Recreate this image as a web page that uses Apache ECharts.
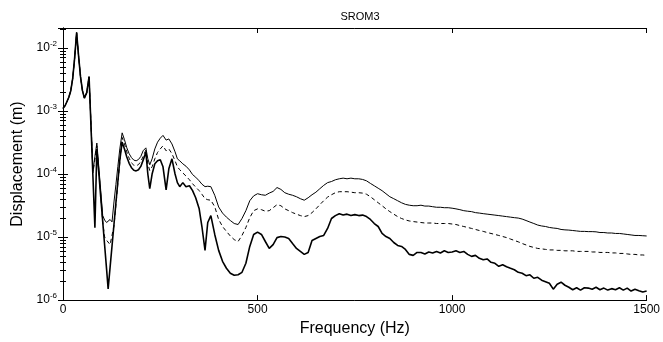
<!DOCTYPE html>
<html>
<head>
    <meta charset="utf-8">
    <script src="https://cdn.jsdelivr.net/npm/echarts@6/dist/echarts.min.js"></script>
</head>
<body style="margin:0;background:#fff;">
<div id="main" style="width: 663px;height:342px;"></div>
<script type="text/javascript">
    // frequency grid (Hz), shared by the three curves
    var freq = [0, 5, 10, 15, 20, 25, 30, 35, 40, 45, 50, 55, 61, 67, 72, 77, 82, 87, 92, 97,
        102, 107, 112, 116, 121, 126, 131, 136, 141, 146, 152, 158, 164, 170, 176, 182, 188, 194, 200, 206,
        213, 218, 223, 229, 236, 243, 250, 257, 265, 272, 280, 288, 294, 300, 308, 316, 325, 333, 341, 350,
        357, 365, 372, 380, 390, 400, 410, 420, 430, 440, 450, 460, 470, 480, 490, 500, 510, 520, 530, 540,
        550, 560, 570, 580, 590, 600, 610, 620, 630, 640, 650, 660, 670, 680, 690, 700, 710, 720, 730, 740,
        750, 760, 770, 780, 790, 800, 810, 820, 830, 840, 850, 860, 870, 880, 890, 900, 910, 920, 930, 940,
        950, 960, 970, 980, 990, 1000, 1010, 1020, 1030, 1040, 1050, 1060, 1070, 1080, 1090, 1100, 1110, 1120, 1130, 1140,
        1150, 1160, 1170, 1180, 1190, 1200, 1210, 1220, 1230, 1240, 1250, 1260, 1270, 1280, 1290, 1300, 1310, 1320, 1330, 1340,
        1350, 1360, 1370, 1380, 1390, 1400, 1410, 1420, 1430, 1440, 1450, 1460, 1470, 1480, 1490, 1500];

    // upper bound (thin solid)
    var upper = [1.1e-3, 1.2e-3, 1.4e-3, 1.65e-3, 2.1e-3, 3.3e-3, 7e-3, 1.75e-2, 7.5e-3, 3.5e-3, 2.1e-3, 1.6e-3, 1.95e-3, 3.5e-3, 6.2e-4, 1.1e-4, 1.9e-4, 3.1e-4, 1.29e-4, 5.4e-5,
        2.2e-5, 1.86e-5, 1.7e-5, 1.78e-5, 1.9e-5, 1.74e-5, 3.6e-5, 6.8e-5, 1.32e-4, 2.5e-4, 4.5e-4, 3.5e-4, 2.6e-4, 2.1e-4, 1.82e-4, 1.66e-4, 1.62e-4, 1.7e-4, 1.9e-4, 2.34e-4,
        2.6e-4, 1.74e-4, 1.4e-4, 1.74e-4, 2.5e-4, 3.2e-4, 3.7e-4, 4.1e-4, 3.45e-4, 3.6e-4, 3.0e-4, 2.25e-4, 1.74e-4, 1.62e-4, 1.45e-4, 1.33e-4, 1.16e-4, 9.8e-5, 8.9e-5, 7.8e-5,
        6.9e-5, 6.3e-5, 6.4e-5, 6.3e-5, 4.6e-5, 3.0e-5, 2.4e-5, 2.07e-5, 1.83e-5, 1.64e-5, 1.58e-5, 1.97e-5, 2.62e-5, 3.77e-5, 4.5e-5, 4.87e-5, 4.69e-5, 4.6e-5, 4.98e-5, 5.3e-5,
        6.1e-5, 5.7e-5, 5.05e-5, 4.78e-5, 4.6e-5, 4.36e-5, 4.06e-5, 3.84e-5, 4.2e-5, 4.69e-5, 5.15e-5, 5.84e-5, 6.6e-5, 7.3e-5, 7.6e-5, 8.1e-5, 8.4e-5, 8.6e-5, 8.4e-5, 8.6e-5,
        8.4e-5, 8.4e-5, 8.2e-5, 7.8e-5, 7.1e-5, 6.5e-5, 5.95e-5, 5.44e-5, 4.87e-5, 4.36e-5, 4.06e-5, 3.77e-5, 3.5e-5, 3.3e-5, 3.2e-5, 3.14e-5, 3.14e-5, 3.2e-5, 3.1e-5, 3.1e-5,
        3.03e-5, 2.97e-5, 2.97e-5, 2.92e-5, 2.92e-5, 2.87e-5, 2.8e-5, 2.72e-5, 2.62e-5, 2.57e-5, 2.53e-5, 2.44e-5, 2.4e-5, 2.35e-5, 2.31e-5, 2.27e-5, 2.23e-5, 2.19e-5, 2.15e-5, 2.11e-5,
        2.07e-5, 2.03e-5, 2.0e-5, 1.93e-5, 1.83e-5, 1.73e-5, 1.64e-5, 1.55e-5, 1.5e-5, 1.47e-5, 1.42e-5, 1.39e-5, 1.37e-5, 1.32e-5, 1.3e-5, 1.29e-5, 1.27e-5, 1.25e-5, 1.23e-5, 1.23e-5,
        1.22e-5, 1.22e-5, 1.21e-5, 1.18e-5, 1.18e-5, 1.16e-5, 1.16e-5, 1.14e-5, 1.14e-5, 1.12e-5, 1.1e-5, 1.08e-5, 1.06e-5, 1.06e-5, 1.05e-5, 1.04e-5];

    // mean (dashed)
    var mean = [1.1e-3, 1.2e-3, 1.4e-3, 1.65e-3, 2.1e-3, 3.3e-3, 7e-3, 1.75e-2, 7.5e-3, 3.5e-3, 2.1e-3, 1.6e-3, 1.95e-3, 3.5e-3, 6.2e-4, 1.05e-4, 1.7e-4, 2.8e-4, 1.12e-4, 4.5e-5,
        1.74e-5, 1e-5, 8.9e-6, 9.5e-6, 7.6e-6, 7.1e-6, 1.5e-5, 3.2e-5, 7.1e-5, 1.5e-4, 3.8e-4, 3.0e-4, 2.24e-4, 1.78e-4, 1.5e-4, 1.38e-4, 1.35e-4, 1.41e-4, 1.58e-4, 1.9e-4,
        2.4e-4, 1.45e-4, 1.13e-4, 1.3e-4, 1.74e-4, 2.2e-4, 2.5e-4, 2.8e-4, 2.33e-4, 2.5e-4, 2.1e-4, 1.62e-4, 1.3e-4, 1.17e-4, 1.04e-4, 9.3e-5, 8.1e-5, 7e-5, 6.2e-5, 5.44e-5,
        4.78e-5, 4.06e-5, 3.91e-5, 3.84e-5, 3.03e-5, 1.9e-5, 1.47e-5, 1.23e-5, 1.04e-5, 9.1e-6, 8.5e-6, 1.06e-5, 1.42e-5, 2.03e-5, 2.62e-5, 2.8e-5, 2.72e-5, 2.57e-5, 2.62e-5, 2.92e-5,
        3.26e-5, 3.14e-5, 2.8e-5, 2.62e-5, 2.44e-5, 2.31e-5, 2.19e-5, 2.11e-5, 2.19e-5, 2.44e-5, 2.8e-5, 3.26e-5, 3.77e-5, 4.3e-5, 4.69e-5, 5.05e-5, 5.24e-5, 5.24e-5, 5.24e-5, 5.15e-5,
        5.05e-5, 5.05e-5, 4.98e-5, 4.78e-5, 4.36e-5, 3.91e-5, 3.5e-5, 3.14e-5, 2.8e-5, 2.53e-5, 2.31e-5, 2.11e-5, 1.97e-5, 1.87e-5, 1.8e-5, 1.76e-5, 1.73e-5, 1.7e-5, 1.67e-5, 1.67e-5,
        1.67e-5, 1.64e-5, 1.64e-5, 1.64e-5, 1.64e-5, 1.61e-5, 1.58e-5, 1.52e-5, 1.47e-5, 1.42e-5, 1.37e-5, 1.32e-5, 1.27e-5, 1.23e-5, 1.18e-5, 1.14e-5, 1.1e-5, 1.06e-5, 1.02e-5, 9.8e-6,
        9.3e-6, 8.84e-6, 8.4e-6, 7.9e-6, 7.5e-6, 7.1e-6, 6.85e-6, 6.6e-6, 6.5e-6, 6.37e-6, 6.25e-6, 6.25e-6, 6.15e-6, 6.15e-6, 6.05e-6, 6.05e-6, 6.05e-6, 5.92e-6, 5.92e-6, 5.92e-6,
        5.92e-6, 5.8e-6, 5.8e-6, 5.7e-6, 5.7e-6, 5.7e-6, 5.6e-6, 5.6e-6, 5.5e-6, 5.5e-6, 5.4e-6, 5.31e-6, 5.31e-6, 5.2e-6, 5.2e-6, 5.12e-6];

    // lower bound (thick solid)
    var lower = [1.1e-3, 1.2e-3, 1.4e-3, 1.65e-3, 2.1e-3, 3.3e-3, 7e-3, 1.75e-2, 7.5e-3, 3.5e-3, 2.1e-3, 1.6e-3, 1.95e-3, 3.5e-3, 5.6e-4, 8.9e-5, 1.4e-5, 2.5e-4, 1.05e-4, 4.3e-5,
        1.78e-5, 7.4e-6, 3.1e-6, 1.5e-6, 3.3e-6, 7.2e-6, 1.58e-5, 3.5e-5, 7.6e-5, 1.66e-4, 3.2e-4, 2.5e-4, 1.86e-4, 1.48e-4, 1.26e-4, 1.15e-4, 1.12e-4, 1.17e-4, 1.32e-4, 1.66e-4,
        2.24e-4, 1.0e-4, 5.84e-5, 1.0e-4, 1.45e-4, 1.62e-4, 1.68e-4, 1.3e-4, 5.6e-5, 1.21e-4, 1.74e-4, 1.0e-4, 7.3e-5, 6.3e-5, 7.3e-5, 6.3e-5, 6.5e-5, 5.44e-5, 4.2e-5, 2.8e-5,
        1.47e-5, 6.15e-6, 1.7e-5, 2.19e-5, 1.1e-5, 6.15e-6, 4.12e-6, 3.2e-6, 2.67e-6, 2.48e-6, 2.52e-6, 2.76e-6, 3.84e-6, 7.1e-6, 1.1e-5, 1.2e-5, 1.1e-5, 8.5e-6, 6.6e-6, 7.6e-6,
        9.8e-6, 1.02e-5, 1.0e-5, 9.5e-6, 7.9e-6, 6.6e-6, 5.92e-6, 5.31e-6, 5.7e-6, 8.84e-6, 9.5e-6, 1.02e-5, 1.06e-5, 1.37e-5, 1.97e-5, 2.19e-5, 2.35e-5, 2.23e-5, 2.31e-5, 2.19e-5,
        2.27e-5, 2.19e-5, 2.23e-5, 2.11e-5, 1.9e-5, 1.64e-5, 1.47e-5, 1.14e-5, 1.02e-5, 9.5e-6, 8.2e-6, 7.37e-6, 7.1e-6, 6.37e-6, 5.31e-6, 5.12e-6, 5.7e-6, 5.7e-6, 5.4e-6, 5.8e-6,
        5.6e-6, 5.92e-6, 5.6e-6, 6.05e-6, 5.7e-6, 5.8e-6, 6.05e-6, 5.7e-6, 5.92e-6, 5.31e-6, 4.94e-6, 5.12e-6, 4.6e-6, 4.35e-6, 4.5e-6, 3.98e-6, 3.84e-6, 3.44e-6, 3.63e-6, 3.38e-6,
        3.2e-6, 3.03e-6, 2.76e-6, 2.67e-6, 2.44e-6, 2.52e-6, 2.22e-6, 2.3e-6, 2.07e-6, 1.96e-6, 1.85e-6, 1.49e-6, 1.79e-6, 1.92e-6, 1.72e-6, 1.6e-6, 1.46e-6, 1.57e-6, 1.44e-6, 1.57e-6,
        1.55e-6, 1.49e-6, 1.6e-6, 1.46e-6, 1.55e-6, 1.44e-6, 1.52e-6, 1.46e-6, 1.57e-6, 1.44e-6, 1.55e-6, 1.39e-6, 1.49e-6, 1.41e-6, 1.34e-6, 1.39e-6];

    var xTicks = [0, 500, 1000, 1500];

    function pairs(vals) {
        return freq.map(function (f, i) { return [f, vals[i]]; });
    }

    var myChart = echarts.init(document.getElementById('main'));
    var font = 'Liberation Sans, Arial, sans-serif';
    var yMin = 1e-6, yMax = 0.0207;

    var tickStyle = { show: true, inside: true, length: 5, lineStyle: { color: '#000', width: 1 } };
    var minorStyle = { show: true, splitNumber: 9, length: 3, lineStyle: { color: '#000', width: 1 } };

    myChart.setOption({
        animation: false,
        title: {
            text: 'SROM3',
            left: 355,
            top: 6,
            textAlign: 'center',
            textStyle: { fontSize: 11, fontWeight: 'normal', color: '#000', fontFamily: font }
        },
        grid: { left: 63, right: 16, top: 28, bottom: 40 },
        xAxis: [{
            type: 'value',
            min: xTicks[0],
            max: xTicks[xTicks.length - 1],
            interval: 500,
            name: 'Frequency (Hz)',
            nameLocation: 'middle',
            nameGap: 16,
            nameTextStyle: { fontSize: 16, color: '#000', fontFamily: font },
            axisLine: { show: true, lineStyle: { color: '#000', width: 1 } },
            axisTick: tickStyle,
            axisLabel: {
                color: '#000', fontSize: 12, margin: 4, fontFamily: font,
                formatter: function (v) { return String(v); }
            },
            splitLine: { show: false }
        }, {
            type: 'value',
            position: 'top',
            min: xTicks[0],
            max: xTicks[xTicks.length - 1],
            interval: 500,
            axisLine: { show: true, lineStyle: { color: '#000', width: 1 } },
            axisTick: tickStyle,
            axisLabel: { show: false },
            splitLine: { show: false }
        }],
        yAxis: [{
            type: 'log',
            logBase: 10,
            min: yMin,
            max: yMax,
            name: 'Displacement (m)',
            nameLocation: 'middle',
            nameGap: 35,
            nameTextStyle: { fontSize: 16, color: '#000', fontFamily: font },
            axisLine: { show: true, lineStyle: { color: '#000', width: 1 } },
            axisTick: tickStyle,
            minorTick: minorStyle,
            axisLabel: {
                showMaxLabel: false,
                margin: 6,
                color: '#000',
                fontFamily: font,
                formatter: function (v) {
                    return '{b|10}{s|' + Math.round(Math.log10(v)) + '}';
                },
                rich: {
                    b: { fontSize: 12, color: '#000', fontFamily: font },
                    s: { fontSize: 8, color: '#000', fontFamily: font, padding: [0, 0, 8, 0] }
                }
            },
            splitLine: { show: false }
        }, {
            type: 'log',
            logBase: 10,
            position: 'right',
            min: yMin,
            max: yMax,
            axisLine: { show: true, lineStyle: { color: '#000', width: 1 } },
            axisTick: tickStyle,
            minorTick: minorStyle,
            axisLabel: { show: false },
            splitLine: { show: false }
        }],
        series: [{
            type: 'line',
            data: pairs(upper),
            showSymbol: false,
            lineStyle: { color: '#000', width: 1 }
        }, {
            type: 'line',
            data: pairs(mean),
            showSymbol: false,
            lineStyle: { color: '#000', width: 1, type: [4, 3] }
        }, {
            type: 'line',
            data: pairs(lower),
            showSymbol: false,
            lineStyle: { color: '#000', width: 1.6 }
        }]
    });
</script>
</body>
</html>
